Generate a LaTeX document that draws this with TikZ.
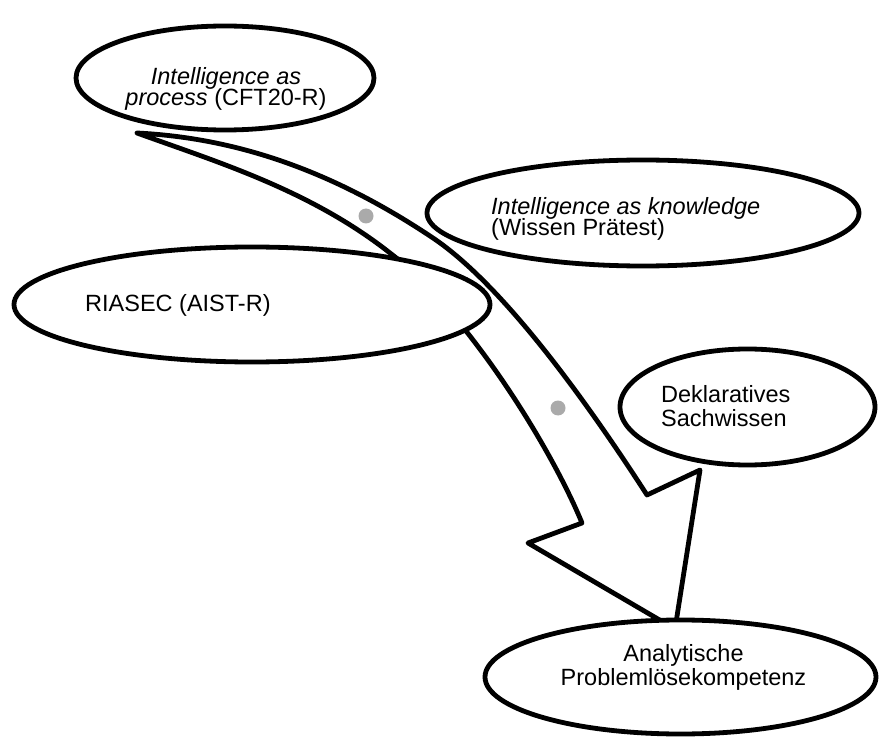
\documentclass[tikz,border=0pt]{standalone}
\usepackage{fontspec}
\setmainfont{Liberation Sans}
\usetikzlibrary{shapes.geometric}
\definecolor{dotgray}{RGB}{170,170,170}
\begin{document}
\begin{tikzpicture}[x=1pt,y=-1pt,
  outline/.style={line width=4.8pt},
  bubble/.style={ellipse, draw, outline, fill=white, inner sep=0pt},
  txt/.style={inner sep=0pt, font=\fontsize{23.5}{24.5}\selectfont},
  tightlines/.style={font=\fontsize{23.5}{20.5}\selectfont,
    execute at begin node={\lineskiplimit=-30pt\relax}},
  dotmark/.style={circle, fill=dotgray, inner sep=0pt, minimum size=15pt}]
\useasboundingbox (0,0) rectangle (879,738);

% tail and head points of the curved block arrow
\coordinate (tail)  at (137,133);
\coordinate (bendU) at (433,238);
\coordinate (notchR) at (647,495);
\coordinate (barbR) at (700,470);
\coordinate (tip)   at (675,629);
\coordinate (barbL) at (528,543);
\coordinate (notchL) at (582,523);
\coordinate (bendL) at (390,253);

% curved block arrow, drawn first so the bubbles sit on top of it
\draw[outline, line join=round, fill=white]
  (tail) .. controls (237,138) and (333,171) .. (bendU)
         .. controls (503,285) and (587,402) .. (notchR)
  -- (barbR) -- (tip) -- (barbL) -- (notchL)
         .. controls (550,445) and (465,310) .. (bendL)
         .. controls (310,190) and (217,162) .. (tail)
  -- cycle;

% grey markers inside the arrow
\node[dotmark] (m1) at (366,216) {};
\node[dotmark] (m2) at (558,408) {};

% bubbles
\node[bubble, minimum width=298pt, minimum height=104pt] (proc) at (225,78) {};
\node[bubble, minimum width=432pt, minimum height=106pt] (know) at (643,213) {};
\node[bubble, minimum width=476pt, minimum height=115pt] (riasec) at (252,304.5) {};
\node[bubble, minimum width=255pt, minimum height=116pt] (dekl) at (747.5,407) {};
\node[bubble, minimum width=391pt, minimum height=114pt] (apk) at (680.5,677) {};

% bubble texts
\node[txt, tightlines, align=center] (proc-t) at (226,89) {\textit{Intelligence as}\\\textit{process} (CFT20-R)};
\node[txt, tightlines, align=left, anchor=west] (know-t) at (491,219) {\textit{Intelligence as knowledge}\\(Wissen Prätest)};
\node[txt, anchor=base west] (riasec-t) at (85,312) {RIASEC (AIST-R)};
\node[txt, align=left, anchor=west] (dekl-t) at (661,406) {Deklaratives\\Sachwissen};
\node[txt, align=center] (apk-t) at (683.5,667.5) {Analytische\\Problemlösekompetenz};
\end{tikzpicture}
\end{document}
